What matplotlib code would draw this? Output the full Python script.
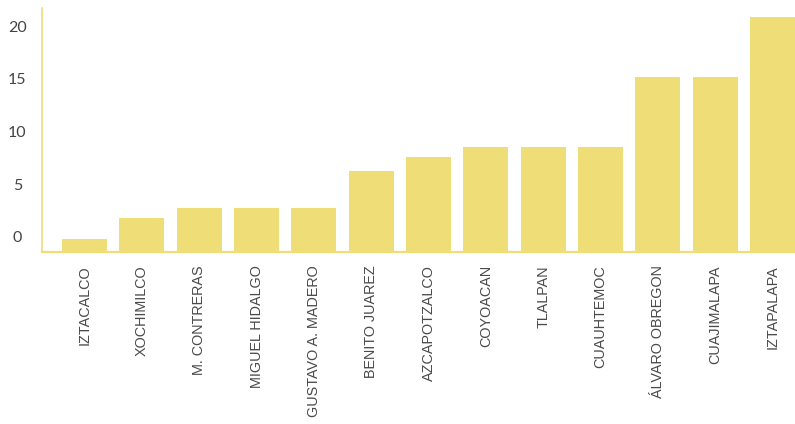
import matplotlib
matplotlib.use("Agg")
import matplotlib.pyplot as plt
from matplotlib.transforms import ScaledTranslation

# Data per alcaldía
categories = ["IZTACALCO", "XOCHIMILCO", "M. CONTRERAS", "MIGUEL HIDALGO",
              "GUSTAVO A. MADERO", "BENITO JUAREZ", "AZCAPOTZALCO", "COYOACAN",
              "TLALPAN", "CUAUHTEMOC", "ÁLVARO OBREGON", "CUAJIMALAPA", "IZTAPALAPA"]
values = [1.2, 3.2, 4.2, 4.2, 4.2, 7.7, 9.0, 10.0, 10.0, 10.0, 16.6, 16.6, 22.3]
y_ticks = [0, 5, 10, 15, 20]

bar_color = "#efde78"
text_color = "#4a4a4a"

fig = plt.figure(figsize=(7.95, 4.24), dpi=100)
ax = fig.add_axes([42.3 / 795, 1 - 252 / 424, 1 - 42.3 / 795, 244 / 424])

x = list(range(len(categories)))
ax.bar(x, values, width=0.785, color=bar_color, zorder=2)

ax.set_xlim(-0.736, 12.39)
ax.set_ylim(0, 23.13)

for side in ("top", "right"):
    ax.spines[side].set_visible(False)
ax.spines["left"].set_color(bar_color)
ax.spines["left"].set_linewidth(1.2)
ax.spines["bottom"].set_color(bar_color)
ax.spines["bottom"].set_linewidth(1.6)

ax.set_xticks(x)
ax.set_xticklabels(categories, rotation=90, ha="center", va="top",
                   fontsize=10.4, color=text_color, family="Liberation Sans")
ax.tick_params(axis="x", length=0, pad=9.4)

ax.set_yticks(y_ticks)
ax.set_yticklabels([str(t) for t in y_ticks], fontsize=11.5, color="#444444",
                   family="Lato", ha="center")
ax.tick_params(axis="y", length=0, pad=18)
shift = ScaledTranslation(0, 15 / 100, fig.dpi_scale_trans)
for lbl in ax.get_yticklabels():
    lbl.set_transform(lbl.get_transform() + shift)

fig.savefig("out.png", dpi=100)
